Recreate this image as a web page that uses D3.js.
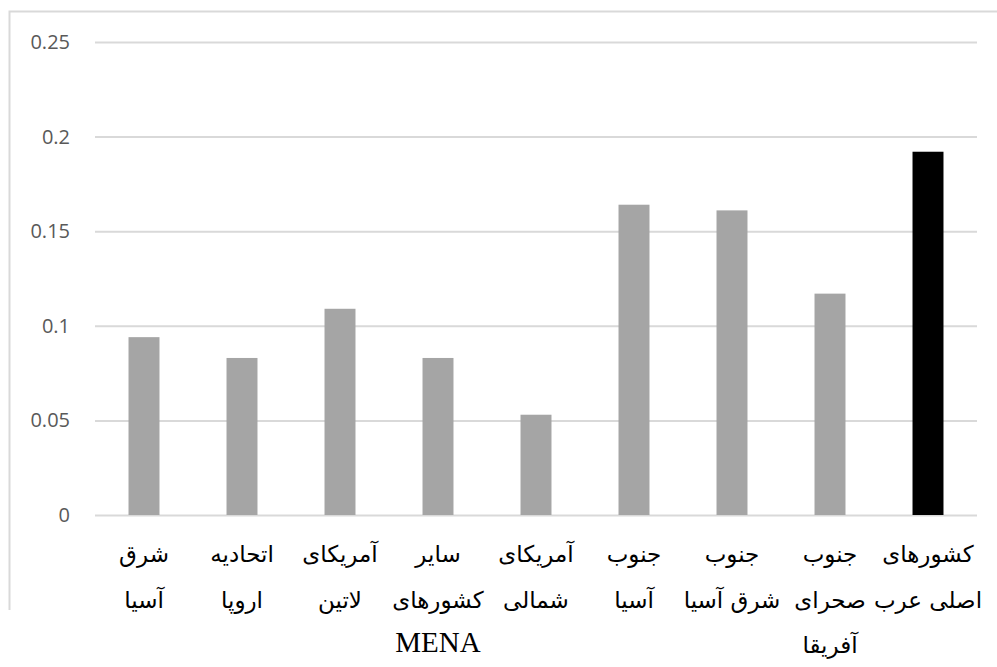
<!DOCTYPE html>
<html>
<head>
<meta charset="utf-8">
<script src="https://cdn.jsdelivr.net/npm/d3@7"></script>
<style>
  html, body { margin: 0; padding: 0; background: #fff; }
  svg { display: block; }
</style>
</head>
<body>
<svg id="chart" width="997" height="667"></svg>
<script>
// Regions (each label split into the lines it is written on)
const categories = [
  ["شرق", "آسیا"],
  ["اتحادیه", "اروپا"],
  ["آمریکای", "لاتین"],
  ["سایر", "کشورهای", "MENA"],
  ["آمریکای", "شمالی"],
  ["جنوب", "آسیا"],
  ["جنوب", "شرق آسیا"],
  ["جنوب", "صحرای", "آفریقا"],
  ["کشورهای", "اصلی عرب"]
];
const values = [0.094, 0.083, 0.109, 0.083, 0.053, 0.164, 0.161, 0.117, 0.192];
const highlighted = [false, false, false, false, false, false, false, false, true];
const yTicks = [0, 0.05, 0.1, 0.15, 0.2, 0.25];

const svg = d3.select("#chart");
const margin = { left: 95, right: 20, top: 42, bottom: 152 };
const W = 997, H = 667;

const x = d3.scaleBand()
  .domain(d3.range(categories.length))
  .range([margin.left, W - margin.right])
  .paddingInner(0.684)
  .paddingOuter(0.342);

const y = d3.scaleLinear()
  .domain([0, 0.25])
  .range([H - margin.bottom, margin.top]);

// chart frame (top and left edges)
svg.append("path")
  .attr("d", `M9.5,610 V11.5 H997`)
  .attr("fill", "none")
  .attr("stroke", "#d9d9d9")
  .attr("stroke-width", 2);

// gridlines and value axis
const yAxis = d3.axisLeft(y)
  .tickValues(yTicks)
  .tickSize(-(W - margin.right - margin.left))
  .tickPadding(25)
  .tickFormat(d => d3.format("")(d));

const gy = svg.append("g")
  .attr("transform", `translate(${margin.left},0)`)
  .call(yAxis);
gy.select(".domain").remove();
gy.selectAll(".tick line")
  .attr("stroke", "#d9d9d9")
  .attr("stroke-width", 2);
gy.selectAll(".tick text")
  .attr("fill", "#595959")
  .style("font-family", "'Open Sans', 'Noto Sans', sans-serif")
  .style("font-size", "20px");

// bars
svg.append("g")
  .selectAll("rect")
  .data(values)
  .join("rect")
  .attr("x", (d, i) => x(i))
  .attr("y", d => y(d))
  .attr("width", x.bandwidth())
  .attr("height", d => y(0) - y(d))
  .attr("fill", (d, i) => highlighted[i] ? "#000000" : "#a5a5a5");

// category labels
const labels = svg.append("g");
categories.forEach((lines, i) => {
  const cx = x(i) + x.bandwidth() / 2;
  lines.forEach((line, j) => {
    const latin = /^[A-Za-z]+$/.test(line);
    labels.append("text")
      .attr("x", cx)
      .attr("y", latin ? 652 : 562 + j * 45.5)
      .attr("text-anchor", "middle")
      .attr("direction", latin ? "ltr" : "rtl")
      .attr("fill", "#000")
      .style("font-family", latin ? "'Liberation Serif', serif" : "'DejaVu Sans', sans-serif")
      .style("font-size", latin ? "29px" : "23px")
      .style("font-weight", "normal")
      .text(line);
  });
});
</script>
</body>
</html>
